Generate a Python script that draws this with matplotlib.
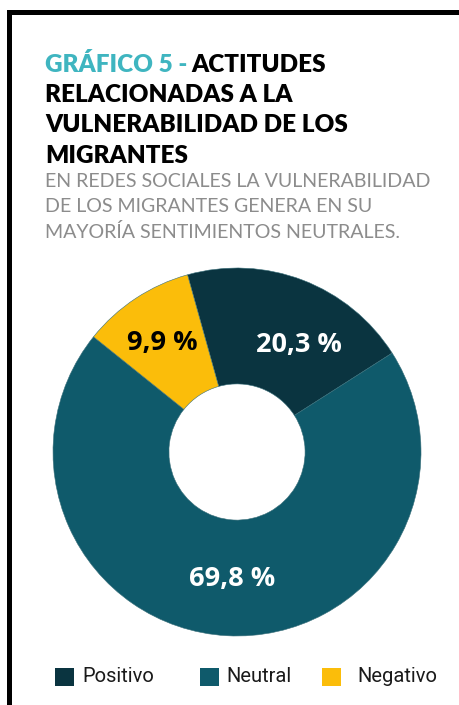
import matplotlib.pyplot as plt
import numpy as np
from matplotlib.patches import Rectangle

# Datos
categorias = ['Positivo', 'Neutral', 'Negativo']
valores = [20.3, 69.8, 9.9]
etiquetas = ['20,3 %', '69,8 %', '9,9 %']
colores = ['#0a3440', '#0f5a6b', '#fbbd0a']
color_texto = ['white', 'white', 'black']

W, H = 459, 705
fig = plt.figure(figsize=(W / 100, H / 100), dpi=100)

# Marco negro (recortado a la derecha y abajo)
fig.add_artist(Rectangle((8.5 / W, -0.1), 1.2, (H - 12.5) / H + 0.1,
                         transform=fig.transFigure, fill=False,
                         edgecolor='black', linewidth=3.6))

# Titulo
tam = 17.5
t = fig.text(45 / W, 1 - 72 / H, 'GRÁFICO 5 - ', color='#3fb5c0', fontsize=tam,
             fontweight='heavy', family='Lato')
fig.canvas.draw()
bb = t.get_window_extent()
fig.text(bb.x1 / W - 0.004, 1 - 72 / H, 'ACTITUDES', color='black', fontsize=tam,
         fontweight='heavy', family='Lato')
lineas = ['RELACIONADAS A LA', 'VULNERABILIDAD DE LOS', 'MIGRANTES']
for i, l in enumerate(lineas):
    fig.text(45 / W, 1 - (102 + 30.5 * i) / H, l, color='black', fontsize=tam,
             fontweight='heavy', family='Lato')

sub = ['EN REDES SOCIALES LA VULNERABILIDAD', 'DE LOS MIGRANTES GENERA EN SU',
       'MAYORÍA SENTIMIENTOS NEUTRALES.']
for i, l in enumerate(sub):
    fig.text(45 / W, 1 - (187 + 25.5 * i) / H, l, color='#8c8c8c', fontsize=14.1,
             family='Lato')

# Dona
cx, cy, r = 237, 452, 184
ax = fig.add_axes([(cx - r) / W, (H - cy - r) / H, 2 * r / W, 2 * r / H])
inicio = 105.6
wedges, _ = ax.pie(valores, colors=colores, startangle=inicio, counterclock=False,
                   radius=1, wedgeprops=dict(width=0.63, edgecolor='#3a6f7a', linewidth=0.4))
ax.set_xlim(-1, 1)
ax.set_ylim(-1, 1)
ax.set_aspect('equal')
ax.axis('off')

dist = [0.67, 0.69, 0.72]
ajuste = [-9, 1, 1]
for w, lab, c, d, a in zip(wedges, etiquetas, color_texto, dist, ajuste):
    ang = np.deg2rad((w.theta1 + w.theta2) / 2 + a)
    ax.text(d * np.cos(ang), d * np.sin(ang), lab, color=c, fontsize=19.5,
            fontweight='bold', family='Open Sans', ha='center', va='center')

# Leyenda
pos_caja = [55, 200, 322]
pos_texto = [82, 226, 357]
for cat, col, xb, xt in zip(categorias, colores, pos_caja, pos_texto):
    fig.add_artist(Rectangle((xb / W, 1 - 686 / H), 19 / W, 18 / H,
                             transform=fig.transFigure, facecolor=col, edgecolor='none'))
    fig.text(xt / W, 1 - 677 / H, cat, color='#1a1a1a', fontsize=14.5,
             family=['Roboto', 'DejaVu Sans'], fontstretch='condensed', va='center')

plt.savefig('out.png', dpi=100)
